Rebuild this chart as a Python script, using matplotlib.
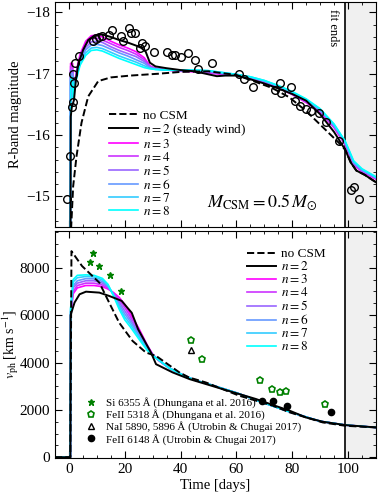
import matplotlib
matplotlib.use("Agg")
import matplotlib.pyplot as plt
from matplotlib.ticker import MultipleLocator

plt.rcParams['font.family'] = ['Liberation Serif', 'DejaVu Serif']
plt.rcParams['mathtext.fontset'] = 'stix'
plt.rcParams['font.size'] = 10

# ---------------- data: R-band light curve ----------------
obs_t = [-0.6, 0.4, 1.1, 1.3, 1.8, 1.6, 2.3, 3.5, 8.6, 9.6, 10.7, 11.9, 14.4, 15.5,
         18.6, 19.4, 21.4, 22.4, 23.6, 25.4, 26.3, 27.2, 30.5, 35.0, 36.8, 38.0,
         40.1, 42.8, 45.2, 46.1, 51.2, 61.0, 62.8, 66.1, 74.0, 75.8, 76.0, 79.6,
         81.0, 82.7, 84.8, 86.9, 89.6, 92.0, 96.8, 101.0, 102.0, 104.0]
obs_mag = [-14.96, -15.65, -16.46, -16.54, -16.85, -17.0, -17.17, -17.29, -17.54, -17.57,
           -17.6, -17.62, -17.64, -17.71, -17.61, -17.54, -17.75, -17.66, -17.67, -17.42,
           -17.5, -17.45, -17.36, -17.35, -17.31, -17.3, -17.27, -17.34, -17.22, -17.08,
           -17.17, -16.99, -16.91, -16.78, -16.73, -16.85, -16.69, -16.78, -16.55, -16.47,
           -16.42, -16.4, -16.36, -16.22, -15.9, -15.11, -15.16, -14.96]

nocsm_t = [0.5, 0.8, 1.5, 2.7, 4.5, 6.9, 10.5, 15, 22, 32, 40, 50, 60, 66.7, 72.7,
           78.8, 84.8, 90.7, 96.8, 99, 101, 103, 106, 110]
nocsm_mag = [-13.8, -14.5, -15.16, -15.65, -16.2, -16.63, -16.88, -16.94, -16.97, -17.0,
             -17.03, -17.04, -16.98, -16.87, -16.77, -16.62, -16.4, -16.14, -15.87, -15.76,
             -15.55, -15.42, -15.35, -15.23]

n2_t = [0.5, 0.65, 1.0, 1.8, 2.5, 3.4, 5.1, 6.9, 9.3, 12, 15, 18, 21, 24, 26, 27.5, 29,
        31, 35, 40, 45, 50, 53, 56, 60, 65, 70, 75, 80, 85, 90, 95, 99, 101, 103, 106, 110]
n2_mag = [-13.8, -16.3, -16.45, -16.57, -16.9, -17.17, -17.39, -17.55, -17.63, -17.64,
          -17.6, -17.55, -17.51, -17.46, -17.42, -17.36, -17.18, -17.12, -17.09, -17.06,
          -17.04, -16.99, -16.96, -16.97, -16.97, -16.91, -16.84, -16.76, -16.67, -16.56,
          -16.34, -16.05, -15.76, -15.55, -15.42, -15.35, -15.23]

fan_t = [0.5, 0.6, 1.3, 1.5, 2, 3, 4, 6, 8, 10, 12, 15, 18, 21, 24, 27, 29, 31, 35, 40,
         45, 50, 55, 60, 65, 70, 75, 80, 85, 90, 95, 99, 102, 105, 110]
n3_mag = [-13.8, -17.17, -17.17, -16.6, -16.85, -17.12, -17.32, -17.53, -17.62, -17.63,
          -17.6, -17.53, -17.47, -17.42, -17.36, -17.26, -17.13, -17.09, -17.06, -17.04,
          -17.03, -17.01, -16.99, -16.98, -16.93, -16.86, -16.77, -16.66, -16.53, -16.37,
          -16.12, -15.84, -15.52, -15.4, -15.28]
n4_mag = [-13.8, -17.12, -17.12, -16.6, -16.84, -17.09, -17.28, -17.48, -17.57, -17.58,
          -17.55, -17.49, -17.43, -17.38, -17.32, -17.23, -17.12, -17.09, -17.06, -17.05,
          -17.04, -17.02, -17.0, -16.98, -16.93, -16.87, -16.78, -16.67, -16.54, -16.39,
          -16.13, -15.85, -15.53, -15.41, -15.29]
n5_mag = [-13.8, -17.06, -17.06, -16.6, -16.83, -17.06, -17.24, -17.43, -17.52, -17.53,
          -17.51, -17.44, -17.38, -17.33, -17.28, -17.2, -17.11, -17.08, -17.06, -17.05,
          -17.05, -17.03, -17.0, -16.98, -16.94, -16.87, -16.79, -16.68, -16.55, -16.4,
          -16.14, -15.86, -15.54, -15.42, -15.3]
n6_mag = [-13.8, -17.0, -17.0, -16.6, -16.82, -17.03, -17.2, -17.39, -17.47, -17.48,
          -17.46, -17.4, -17.34, -17.29, -17.23, -17.17, -17.1, -17.08, -17.06, -17.05,
          -17.05, -17.04, -17.01, -16.99, -16.94, -16.88, -16.8, -16.69, -16.57, -16.41,
          -16.16, -15.88, -15.55, -15.43, -15.3]
n7_mag = [-13.8, -16.95, -16.95, -16.6, -16.81, -17.0, -17.17, -17.34, -17.42, -17.43,
          -17.41, -17.35, -17.29, -17.24, -17.19, -17.13, -17.09, -17.07, -17.06, -17.06,
          -17.06, -17.05, -17.02, -16.99, -16.95, -16.89, -16.8, -16.7, -16.58, -16.42,
          -16.17, -15.89, -15.57, -15.44, -15.31]
n8_mag = [-13.8, -16.9, -16.9, -16.6, -16.8, -16.97, -17.14, -17.3, -17.38, -17.39,
          -17.37, -17.31, -17.25, -17.2, -17.15, -17.1, -17.08, -17.07, -17.06, -17.06,
          -17.06, -17.05, -17.02, -16.99, -16.95, -16.89, -16.81, -16.71, -16.59, -16.43,
          -16.18, -15.9, -15.58, -15.45, -15.32]

# ---------------- data: photospheric velocity ----------------
si_t = [8.6, 7.4, 10.7, 14.6, 18.8]
si_v = [8630, 8250, 8070, 7680, 7020]
fe5318_t = [43.8, 47.6, 68.6, 72.8, 75.8, 77.8, 91.7]
fe5318_v = [4950, 4140, 3260, 2900, 2770, 2780, 2250]
na_t = [43.8]
na_v = [4530]
fe6148_t = [69.0, 73.0, 78.0, 94.0]
fe6148_v = [2390, 2390, 2180, 1900]

vnocsm_t = [-5, 0.5, 0.9, 4.7, 10.9, 14.4, 18, 22.8, 27.6, 31.2, 39.6, 43, 49, 61, 73,
            79, 85, 91, 99, 110]
vnocsm_v = [0, 0, 8700, 8070, 7370, 6530, 5680, 4910, 4420, 4280, 3580, 3370, 3160,
            2600, 2180, 1900, 1680, 1470, 1330, 1260]

vn2_t = [-5, 0.5, 0.6, 2, 3.8, 6.1, 10.9, 14.4, 16.8, 18.9, 20.4, 22.5, 24.8, 29.4,
         31.2, 37.2, 43.2, 55, 61, 67, 73, 79, 85, 91, 99, 110]
vn2_v = [0, 0, 6000, 6530, 6880, 6990, 6950, 6810, 6700, 6600, 6390, 6100, 5400, 4420,
         3930, 3580, 3300, 2880, 2670, 2460, 2210, 1970, 1680, 1500, 1360, 1260]

vfan_t = [-5, 0.5, 0.6, 1.5, 3, 6, 9, 12, 14, 16, 18, 20, 22, 25, 28, 30, 32, 36, 40,
          45, 50, 60, 70, 80, 90, 99, 110]
vn3 = [0, 0, 5900, 6900, 7150, 7250, 7250, 7200, 7100, 6950, 6750, 6450, 6050, 5450,
       4750, 4350, 4100, 3760, 3520, 3260, 3090, 2720, 2290, 1880, 1520, 1360, 1260]
vn4 = [0, 0, 6000, 7000, 7250, 7350, 7350, 7270, 7140, 6920, 6650, 6320, 5940, 5360,
       4700, 4340, 4100, 3760, 3520, 3260, 3090, 2720, 2290, 1880, 1520, 1360, 1260]
vn5 = [0, 0, 6100, 7150, 7350, 7450, 7450, 7350, 7180, 6890, 6550, 6180, 5820, 5270,
       4650, 4330, 4110, 3760, 3520, 3260, 3090, 2720, 2290, 1880, 1520, 1360, 1260]
vn6 = [0, 0, 6150, 7250, 7450, 7540, 7530, 7420, 7220, 6860, 6450, 6050, 5720, 5180,
       4600, 4320, 4110, 3760, 3520, 3260, 3090, 2720, 2290, 1880, 1520, 1360, 1260]
vn7 = [0, 0, 6250, 7400, 7580, 7630, 7610, 7490, 7260, 6830, 6350, 5920, 5610, 5090,
       4560, 4310, 4120, 3760, 3520, 3260, 3090, 2720, 2290, 1880, 1520, 1360, 1260]
vn8 = [0, 0, 6300, 7500, 7680, 7700, 7680, 7550, 7300, 6800, 6250, 5800, 5500, 5000,
       4520, 4300, 4120, 3760, 3520, 3260, 3090, 2720, 2290, 1880, 1520, 1360, 1260]

n_values = [3, 4, 5, 6, 7, 8]
fan_mags = [n3_mag, n4_mag, n5_mag, n6_mag, n7_mag, n8_mag]
fan_vels = [vn3, vn4, vn5, vn6, vn7, vn8]
fit_end = 99

cmap = plt.cm.cool
colors = [cmap(1 - i / 5) for i in range(6)]

fig = plt.figure(figsize=(3.78, 4.93), dpi=100)
ax1 = fig.add_axes([0.1455, 0.5396, 0.849, 0.4563])
ax2 = fig.add_axes([0.1455, 0.0710, 0.849, 0.4604], sharex=ax1)

for ax in (ax1, ax2):
    ax.axvspan(fit_end, 120, color='#f0f0f0', zorder=0)
    ax.axvline(fit_end, color='black', lw=1.2, zorder=1)
    ax.tick_params(which='both', direction='in', top=True, right=True)
    ax.tick_params(which='major', length=5, width=0.8, labelsize=11)
    ax.tick_params(which='minor', length=2.5, width=0.6)
    ax.xaxis.set_major_locator(MultipleLocator(20))
    ax.xaxis.set_minor_locator(MultipleLocator(5))

leg_kw = dict(frameon=False, fontsize=9.5, handlelength=2.2, handletextpad=0.4,
              labelspacing=0.0, borderpad=0.2)

# top panel
ax1.plot(nocsm_t, nocsm_mag, color='black', ls='--', lw=1.4, label='no CSM', zorder=3)
ax1.plot(n2_t, n2_mag, color='black', lw=1.4, label=r'$n = 2$ (steady wind)', zorder=4)
for n, mags, c in zip(n_values, fan_mags, colors):
    ax1.plot(fan_t, mags, color=c, lw=1.2, label=r'$n = %d$' % n, zorder=2)
ax1.plot(obs_t, obs_mag, 'o', mfc='none', mec='black', mew=1.0, ms=5.5, zorder=5)
ax1.set_ylim(-14.5, -18.17)
ax1.yaxis.set_major_locator(MultipleLocator(1))
ax1.yaxis.set_minor_locator(MultipleLocator(0.2))
ax1.set_ylabel('R-band magnitude', fontsize=10.5)
ax1.yaxis.set_label_coords(-0.103, 0.5)
ax1.tick_params(labelbottom=False)
ax1.text(94.5, -18.05, 'fit ends', rotation=270, ha='center', va='top', fontsize=9)
ax1.text(0.645, 0.11, r'$M_{\rm CSM} = 0.5\,M_{\odot}$', transform=ax1.transAxes,
         ha='center', va='center', fontsize=13)
ax1.legend(loc='lower left', bbox_to_anchor=(0.14, 0.0), **leg_kw)

# bottom panel
ax2.plot(vnocsm_t, vnocsm_v, color='black', ls='--', lw=1.4, label='no CSM', zorder=3)
ax2.plot(vn2_t, vn2_v, color='black', lw=1.4, label=r'$n = 2$', zorder=4)
for n, vel, c in zip(n_values, fan_vels, colors):
    ax2.plot(vfan_t, vel, color=c, lw=1.2, label=r'$n = %d$' % n, zorder=2)
leg = ax2.legend(loc='upper left', bbox_to_anchor=(0.57, 0.965), **leg_kw)
ax2.add_artist(leg)

h1, = ax2.plot(si_t, si_v, '*', color='green', ms=5, ls='none', zorder=5,
               label='Si 6355\u2009Å (Dhungana et al. 2016)')
h2, = ax2.plot(fe5318_t, fe5318_v, 'p', mfc='none', mec='green', mew=1.2, ms=5, ls='none',
               zorder=5, label='FeII 5318\u2009Å (Dhungana et al. 2016)')
h3, = ax2.plot(na_t, na_v, '^', mfc='none', mec='black', mew=1.0, ms=5, ls='none',
               zorder=5, label='NaI 5890, 5896\u2009Å (Utrobin & Chugai 2017)')
h4, = ax2.plot(fe6148_t, fe6148_v, 'o', color='black', ms=4.5, ls='none', zorder=5,
               label='FeII 6148\u2009Å (Utrobin & Chugai 2017)')
ax2.legend(handles=[h1, h2, h3, h4], loc='lower left', bbox_to_anchor=(0.07, 0.025),
           frameon=False, fontsize=8, handlelength=1.0, handletextpad=0.9,
           labelspacing=0.1, borderpad=0.2)

ax2.set_xlim(-5, 110)
ax2.set_ylim(-30, 9550)
ax2.yaxis.set_major_locator(MultipleLocator(2000))
ax2.yaxis.set_minor_locator(MultipleLocator(500))
ax2.set_ylabel(r'$v_{\rm ph}$ [km s$^{-1}$]', fontsize=10)
ax2.yaxis.set_label_coords(-0.106, 0.5)
ax2.set_xlabel('Time [days]', labelpad=2, fontsize=10.5)

fig.savefig('out.png', dpi=100)
